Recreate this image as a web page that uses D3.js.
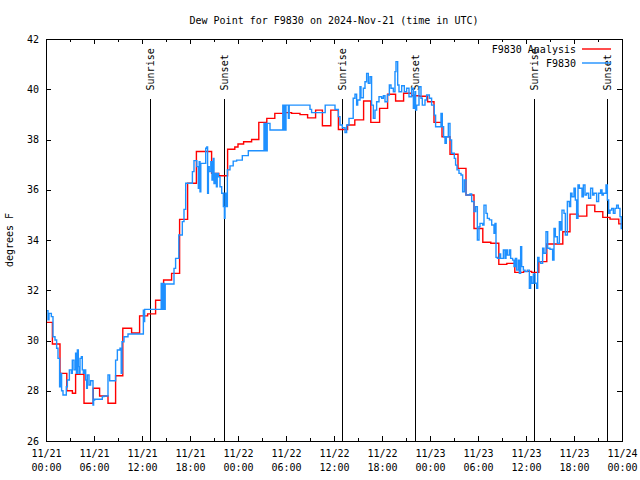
<!DOCTYPE html>
<html><head><meta charset="utf-8">
<script src="https://cdn.jsdelivr.net/npm/d3@7"></script>
<style>
body{margin:0;background:#fff}
text{font-family:"DejaVu Sans Mono","Liberation Mono",monospace;font-size:10px;fill:#000}
</style>
</head><body>
<svg id="chart" width="640" height="480"></svg>
<script>
// ---------------- DATA ----------------
const chartTitle = "Dew Point for F9830 on 2024-Nov-21 (time in UTC)";
const yAxisTitle = "degrees F";
const seriesNames = ["F9830 Analysis", "F9830"];
const startUTC = Date.UTC(2024, 10, 21, 0, 0);
const endUTC = Date.UTC(2024, 10, 24, 0, 0);
const yTicks = [26, 28, 30, 32, 34, 36, 38, 40, 42];
const xMajorHours = [0, 6, 12, 18, 24, 30, 36, 42, 48, 54, 60, 66, 72];
const xMinorHours = [3, 9, 15, 21, 27, 33, 39, 45, 51, 57, 63, 69];
const sunLabels = ["Sunrise", "Sunset", "Sunrise", "Sunset", "Sunrise", "Sunset"];
const sunHours = [13.0, 22.25, 37.1, 46.15, 61.05, 70.15];

// analysis (hours since 11/21 00:00 UTC, deg F)
const analysisSeries = [
  [0,30.72],[0.8,29.86],[1.75,28.69],[2.6,28.0],[3.3,27.9],[3.7,28.65],[4.75,27.5],
  [5.9,28.1],[6.7,27.79],[7.75,27.5],[8.7,28.6],[9.6,30.49],[10.7,30.3],[11.7,30.98],
  [12.7,31.06],[13.7,31.6],[14.7,32.41],[15.7,32.67],[16.7,34.82],[17.7,36.26],
  [18.8,37.52],[20.7,36.65],[21.6,36.56],[22.7,37.61],[23.6,37.7],[24.0,37.82],
  [24.7,37.91],[25.7,38.0],[26.6,38.68],[27.6,38.84],[28.6,39.04],[29.9,39.07],
  [30.7,39.04],[31.75,38.99],[32.7,38.86],[33.7,39.17],[34.55,38.55],[35.6,39.17],
  [36.55,38.4],[37.7,38.58],[38.6,38.78],[39.7,39.53],[40.6,38.68],[41.7,39.24],
  [42.7,39.8],[43.7,39.53],[44.7,39.84],[45.7,39.74],[46.7,39.72],[47.7,39.5],
  [48.5,38.68],[49.5,38.11],[50.5,37.41],[51.5,36.85],[52.5,35.79],[53.5,34.46],
  [54.6,33.91],[55.6,33.87],[56.6,33.03],[57.6,33.07],[58.6,32.71],[59.7,32.75],
  [60.7,32.71],[61.6,33.14],[62.6,33.84],[64.6,34.33],[65.5,35.03],[66.5,34.95],
  [67.6,35.39],[68.6,35.13],[69.6,34.9],[70.5,34.83],[71.6,34.64],[72,34.64]
];

// observations
const obsSeries = [
  [0,31.19],[0.25,30.82],[0.375,31.08],[0.67,30.95],[0.875,30.15],[1.125,30.02],
  [1.33,29.69],[1.5,29.29],[1.7,28.16],[1.83,28.69],[1.95,28.0],[2.125,27.83],
  [2.54,28.16],[2.67,28.43],[2.92,28.83],[3.17,28.69],[3.29,29.22],[3.5,28.83],
  [3.7,29.49],[3.8,28.69],[3.92,29.62],[4.04,28.96],[4.125,28.69],[4.25,29.29],
  [4.42,29.36],[4.54,28.83],[4.67,28.69],[4.83,28.83],[4.96,28.43],[5.08,28.1],
  [5.17,28.63],[5.375,28.23],[5.58,28.4],[5.875,27.43],[5.95,27.63],[6.08,27.66],
  [7.04,27.77],[7.25,27.79],[7.75,28.63],[7.96,28.4],[8.7,29.22],[8.92,29.62],
  [9.25,29.69],[9.4,28.69],[9.5,29.95],[9.75,30.15],[10.25,30.26],[12.17,31.21],
  [12.25,30.75],[12.33,31.24],[14.4,32.27],[14.5,31.24],[14.6,32.27],[14.75,31.24],
  [14.9,32.25],[16.0,32.87],[16.2,33.27],[16.6,34.2],[17.04,34.73],[17.25,35.22],
  [17.46,36.26],[18.3,36.72],[18.5,37.16],[18.85,36.92],[19.04,36.06],[19.15,37.12],
  [19.25,35.92],[19.35,37.05],[19.96,37.65],[20.1,37.7],[20.2,35.86],[20.3,36.92],
  [20.4,36.72],[20.6,37.12],[20.75,36.39],[20.9,37.25],[21.0,36.25],[21.125,36.65],
  [21.3,36.12],[21.4,36.65],[21.54,36.52],[21.75,36.12],[21.96,35.86],[22.17,35.33],
  [22.3,34.86],[22.375,35.86],[22.5,35.33],[22.67,36.79],[23.0,36.95],[23.4,37.14],
  [23.83,37.18],[24.54,37.36],[25.29,37.55],[27.25,38.64],[27.35,37.55],[27.45,38.64],
  [27.55,37.55],[27.65,38.64],[28.0,38.38],[29.6,39.37],[29.7,38.38],[29.8,39.37],
  [29.9,38.38],[30.0,39.37],[30.3,38.84],[30.4,39.37],[33.0,39.2],[33.2,39.07],
  [34.9,39.37],[36.125,39.2],[36.54,38.91],[36.75,38.58],[37.04,38.47],[37.375,38.28],
  [37.58,38.58],[37.875,38.84],[38.4,39.64],[38.625,39.8],[38.83,39.37],[38.96,39.57],
  [39.25,40.1],[39.375,39.66],[39.67,40.04],[39.875,40.3],[40.08,40.63],[40.29,40.24],
  [40.5,40.5],[40.7,39.37],[40.92,38.84],[41.125,39.17],[41.33,39.5],[41.625,39.7],
  [41.96,39.64],[42.17,39.74],[42.375,39.5],[42.67,39.77],[42.92,40.17],[43.125,40.04],
  [43.42,39.9],[43.625,40.7],[43.75,41.1],[43.96,40.17],[44.125,39.9],[44.46,40.14],
  [44.79,39.9],[45.08,40.04],[45.375,39.7],[45.7,40.04],[45.92,39.24],[46.0,39.77],
  [46.06,39.24],[46.125,39.9],[46.2,39.17],[46.33,39.37],[46.625,40.1],[46.875,39.64],
  [47.04,39.37],[47.375,39.57],[47.58,39.77],[47.92,39.64],[48.2,39.37],[48.54,38.97],
  [48.7,38.51],[49.375,39.04],[49.54,38.51],[49.7,38.11],[49.875,37.85],[50.04,38.11],
  [50.29,38.64],[50.5,37.98],[50.7,37.45],[51.04,37.25],[51.2,36.98],[51.375,36.79],
  [51.625,36.65],[51.875,36.59],[52.08,35.92],[52.29,36.39],[52.5,35.79],[53.0,35.83],
  [53.21,35.53],[53.5,35.13],[53.71,35.33],[53.92,34.0],[54.125,34.53],[54.25,34.66],
  [54.58,34.6],[54.75,35.39],[55.0,35.06],[55.17,34.86],[55.42,34.8],[55.71,34.6],
  [56.0,34.27],[56.125,34.66],[56.25,33.31],[56.42,33.27],[56.67,33.44],[56.83,33.27],
  [57.17,33.6],[57.375,33.27],[57.5,33.6],[57.67,33.4],[57.92,33.6],[58.08,33.27],
  [58.33,33.2],[58.5,32.94],[58.67,33.27],[58.83,32.8],[59.04,33.2],[59.17,32.67],
  [59.33,33.73],[59.46,32.94],[59.67,32.8],[59.875,32.74],[60.17,32.8],[60.42,32.08],
  [60.58,32.54],[60.71,32.28],[60.92,32.65],[61.125,32.28],[61.33,32.08],[61.46,33.31],
  [61.625,33.14],[61.83,33.07],[62.08,33.67],[62.25,33.47],[62.5,34.33],[62.71,33.67],
  [63.0,33.63],[63.33,33.2],[63.5,34.46],[63.67,34.13],[63.92,33.87],[64.17,34.73],
  [64.33,34.4],[64.5,35.19],[64.75,35.06],[64.92,34.2],[65.17,35.53],[65.42,35.33],
  [65.58,35.86],[65.75,35.72],[66.0,36.06],[66.17,35.59],[66.33,34.86],[66.5,36.19],
  [66.67,36.06],[67.0,35.72],[67.17,36.19],[67.375,35.79],[67.58,35.86],[67.83,35.66],
  [68.08,36.06],[68.33,35.79],[68.5,35.86],[68.83,35.53],[69.08,35.86],[69.33,35.99],
  [69.5,35.79],[69.67,35.86],[70.0,36.19],[70.17,35.59],[70.33,35.06],[70.5,35.19],
  [70.71,35.26],[70.92,35.06],[71.125,35.26],[71.33,35.39],[71.54,35.26],[71.75,34.93],
  [71.9,34.46],[72,34.46]
];

// ---------------- DRAW ----------------
const svg = d3.select("#chart");
const W = 640, H = 480;
const m = {left: 46, right: 18, top: 39, bottom: 39};
const x = d3.scaleUtc().domain([new Date(startUTC), new Date(endUTC)]).range([m.left, W - m.right]);
const y = d3.scaleLinear().domain([yTicks[0], yTicks[yTicks.length - 1]]).range([H - m.bottom, m.top]);
const hr = h => new Date(startUTC + h * 3600e3);
const fmtDay = d3.utcFormat("%m/%d"), fmtTime = d3.utcFormat("%H:%M");
const x0 = x.range()[0], x1 = x.range()[1], yb = y.range()[0], yt = y.range()[1];

// title
svg.append("text").attr("x", (x0 + x1) / 2).attr("y", 24).attr("text-anchor", "middle").text(chartTitle);
// y title
svg.append("text").attr("transform", `translate(13,${(yb + yt) / 2}) rotate(-90)`)
  .attr("text-anchor", "middle").text(yAxisTitle);

// axes: bottom with labels
const gx = svg.append("g").attr("transform", `translate(0,${yb})`)
  .call(d3.axisBottom(x).tickValues(xMajorHours.map(hr)).tickSizeInner(-5).tickSizeOuter(0).tickFormat(fmtDay))
  .call(g => g.select(".domain").remove());
gx.selectAll(".tick text").each(function(d) {
  const t = d3.select(this).attr("y", null).attr("dy", null).text(null);
  t.append("tspan").attr("x", 0).attr("y", 16).text(fmtDay(d));
  t.append("tspan").attr("x", 0).attr("y", 30).text(fmtTime(d));
});
svg.append("g").attr("transform", `translate(0,${yb})`)
  .call(d3.axisBottom(x).tickValues(xMinorHours.map(hr)).tickSizeInner(-3).tickSizeOuter(0).tickFormat(""))
  .call(g => g.select(".domain").remove());
// top mirror
svg.append("g").attr("transform", `translate(0,${yt})`)
  .call(d3.axisTop(x).tickValues(xMajorHours.map(hr)).tickSizeInner(-5).tickSizeOuter(0).tickFormat(""))
  .call(g => g.select(".domain").remove());
svg.append("g").attr("transform", `translate(0,${yt})`)
  .call(d3.axisTop(x).tickValues(xMinorHours.map(hr)).tickSizeInner(-3).tickSizeOuter(0).tickFormat(""))
  .call(g => g.select(".domain").remove());
// left
svg.append("g").attr("transform", `translate(${x0},0)`)
  .call(d3.axisLeft(y).tickValues(yTicks).tickSizeInner(-5).tickSizeOuter(0).tickPadding(7).tickFormat(d3.format("d")))
  .call(g => g.select(".domain").remove());
// right mirror
svg.append("g").attr("transform", `translate(${x1},0)`)
  .call(d3.axisRight(y).tickValues(yTicks).tickSizeInner(-5).tickSizeOuter(0).tickFormat(""))
  .call(g => g.select(".domain").remove());
svg.selectAll("g").attr("font-family", null).attr("font-size", null);
svg.selectAll(".tick line").attr("stroke", "#000").attr("shape-rendering", "crispEdges");

// sunrise / sunset markers
const sunTop = yb + 0.85 * (yt - yb);
const sunTextY = yb + 0.872 * (yt - yb);
const sg = svg.append("g");
sunHours.forEach((h, i) => {
  const px = x(hr(h));
  sg.append("line").attr("x1", px).attr("x2", px).attr("y1", yb).attr("y2", sunTop)
    .attr("stroke", "#000").attr("stroke-width", 1).attr("shape-rendering", "crispEdges");
  sg.append("text").attr("transform", `translate(${px},${sunTextY}) rotate(-90)`)
    .attr("dy", "0.35em").attr("text-anchor", "start").text(sunLabels[i]);
});

// series
const line = d3.line().x(d => x(hr(d[0]))).y(d => y(d[1])).curve(d3.curveStepAfter);
svg.append("path").datum(analysisSeries).attr("d", line).attr("fill", "none")
  .attr("stroke", "#ff0000").attr("stroke-width", 1.4);
svg.append("path").datum(obsSeries).attr("d", line).attr("fill", "none")
  .attr("stroke", "#1e90ff").attr("stroke-width", 1.4);

// border
svg.append("rect").attr("x", x0).attr("y", yt).attr("width", x1 - x0).attr("height", yb - yt)
  .attr("fill", "none").attr("stroke", "#000").attr("shape-rendering", "crispEdges");

// legend
const legColors = ["#ff0000", "#1e90ff"];
seriesNames.forEach((name, i) => {
  const ly = 49 + i * 14;
  svg.append("text").attr("x", 576).attr("y", ly).attr("dy", "0.35em").attr("text-anchor", "end").text(name);
  svg.append("line").attr("x1", 582).attr("x2", 611).attr("y1", ly).attr("y2", ly)
    .attr("stroke", legColors[i]).attr("stroke-width", 1.4);
});
</script>
</body></html>
